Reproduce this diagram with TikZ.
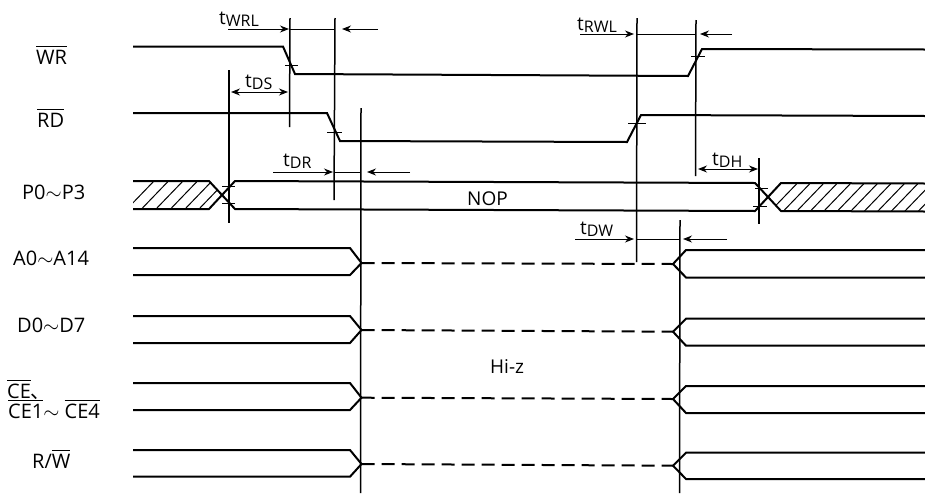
\documentclass[tikz,border=0pt]{standalone}
\usepackage{fontspec}
\setmainfont{Open Sans}
\newfontfamily\cjk{Noto Sans CJK JP}
\usepackage{amsmath}
\usetikzlibrary{arrows.meta}
\newcommand{\barsig}[1]{$\overline{\mbox{#1}}$}
\newcommand{\tsym}[1]{t\raisebox{-2.5pt}{\fontsize{16}{18}\selectfont #1}}
\tikzset{
  wave/.style={line width=2pt},
  marker/.style={line width=1.5pt},
  tickmark/.style={line width=0.8pt},
  dimline/.style={line width=1pt},
  siglabel/.style={anchor=base west,inner sep=0pt,font=\fontsize{20}{22}\selectfont},
  dimlabel/.style={anchor=base west,inner sep=0pt,font=\fontsize{19}{21}\selectfont}
}
\begin{document}
\begin{tikzpicture}[>={Stealth[length=9pt,width=7pt]},x=1pt,y=-1pt]
\useasboundingbox (0,0) rectangle (925,493);
% signal names
\node[siglabel] (wr) at (36,64) {\barsig{WR}};
\node[siglabel] (rd) at (37,127) {\barsig{RD}};
\node[siglabel] (pn) at (22,199) {P0$\sim$P3};
\node[siglabel] (an) at (13,265) {A0$\sim$A14};
\node[siglabel] (dn) at (17,332) {D0$\sim$D7};
\node[siglabel] (ce) at (7,398) {\barsig{CE}{\cjk 、}};
\node[siglabel] (cen) at (8,418) {\barsig{CE1}$\sim$ \barsig{CE4}};
\node[siglabel] (rw) at (32,468) {R/\barsig{W}};
% WR, RD
\draw[wave] (133,46.5) -- (283,46.5) -- (295,74) -- (688,76) -- (702,49) -- (925,49.5);
\draw[wave] (133,113) -- (327,113) -- (340,141) -- (627,142) -- (641,115) -- (925,116);
% P0-P3 data
\begin{scope}
\clip (133,181) -- (209,181) -- (222,195) -- (209,209) -- (133,209) -- cycle;
\foreach \xh in {127,141.5,156,170.5,185,199}
  \draw[dimline] (\xh,209) -- (\xh+27,181);
\end{scope}
\begin{scope}
\clip (925,183.5) -- (781,183) -- (768,197) -- (781,211) -- (925,211.5) -- cycle;
\foreach \xh in {770,783,796.5,810,823.5,837,850.5,864,877.5,891,904.5,918}
  \draw[dimline] (\xh,211.5) -- (\xh+27,183.5);
\end{scope}
\draw[wave] (133,181) -- (209,181) -- (235,209) -- (755,211) -- (781,183) -- (925,183.5);
\draw[wave] (133,209) -- (209,209) -- (235,181) -- (755,183) -- (781,211) -- (925,211.5);
\node[dimlabel] (nop) at (467,205) {NOP};
% buses with the hi-z gap
\foreach \ytl/\yml/\ybl/\ytr/\ymr/\ybr in {248/263/275/250/264/277.5,316/330/343/318.7/331.7/345.7,383/397.7/410/386/399/413,450/464/476.7/452.7/465.7/479}
{
  \draw[wave] (133,\ytl) -- (350,\ytl) -- (361.5,\yml) -- (350,\ybl) -- (133,\ybl);
  \draw[wave] (925,\ytr) -- (686,\ytr) -- (673,\ymr) -- (686,\ybr) -- (925,\ybr);
  \draw[wave,dash pattern=on 13pt off 7pt] (361.5,\yml) -- (673,\ymr);
}
\node[dimlabel] (hiz) at (490,373) {Hi-z};
% timing marks
\draw[marker] (229,70) -- (229,223);
\draw[marker] (290,18) -- (289.5,127);
\draw[marker] (335,18) -- (334,200);
\draw[marker] (361,108) -- (360.5,493);
\draw[marker] (637,18) -- (636.5,262);
\draw[marker] (696,20) -- (695.5,176);
\draw[marker] (759,158) -- (759,224);
\draw[marker] (680,220) -- (679.5,493);
\draw[tickmark] (285,65) -- (298,65);
\draw[tickmark] (327,132) -- (342,132);
\draw[tickmark] (222,186) -- (235,186);
\draw[tickmark] (222,203.5) -- (235,203.5);
\draw[tickmark] (691,56) -- (705,56);
\draw[tickmark] (628,123) -- (646,123);
\draw[tickmark] (755,188) -- (768,188);
\draw[tickmark] (753,206) -- (767,206);
% timing names and arrows
\node[dimlabel] (twrl) at (219,24) {\tsym{WRL}};
\draw[dimline,->] (228,29) -- (289,29);
\draw[dimline] (290,29) -- (335,29);
\draw[dimline,->] (378,29) -- (342,29);
\node[dimlabel] (tds) at (245,87) {\tsym{DS}};
\draw[dimline,<->] (231,92) -- (288,92);
\node[dimlabel] (tdr) at (283,166) {\tsym{DR}};
\draw[dimline,->] (273,172) -- (333,172);
\draw[dimline] (335,172) -- (361,172);
\draw[dimline,->] (410,172) -- (367,172);
\node[dimlabel] (trwl) at (577,30) {\tsym{RWL}};
\draw[dimline,->] (580,34) -- (634,34);
\draw[dimline] (637,34) -- (696,34);
\draw[dimline,->] (732,34) -- (700,34);
\node[dimlabel] (tdh) at (712,165) {\tsym{DH}};
\draw[dimline,<->] (698,169) -- (758,169);
\node[dimlabel] (tdw) at (580,234) {\tsym{DW}};
\draw[dimline,->] (575,239) -- (634,239);
\draw[dimline] (637,239) -- (680,239);
\draw[dimline,->] (727,239) -- (683,239);
\end{tikzpicture}
\end{document}
